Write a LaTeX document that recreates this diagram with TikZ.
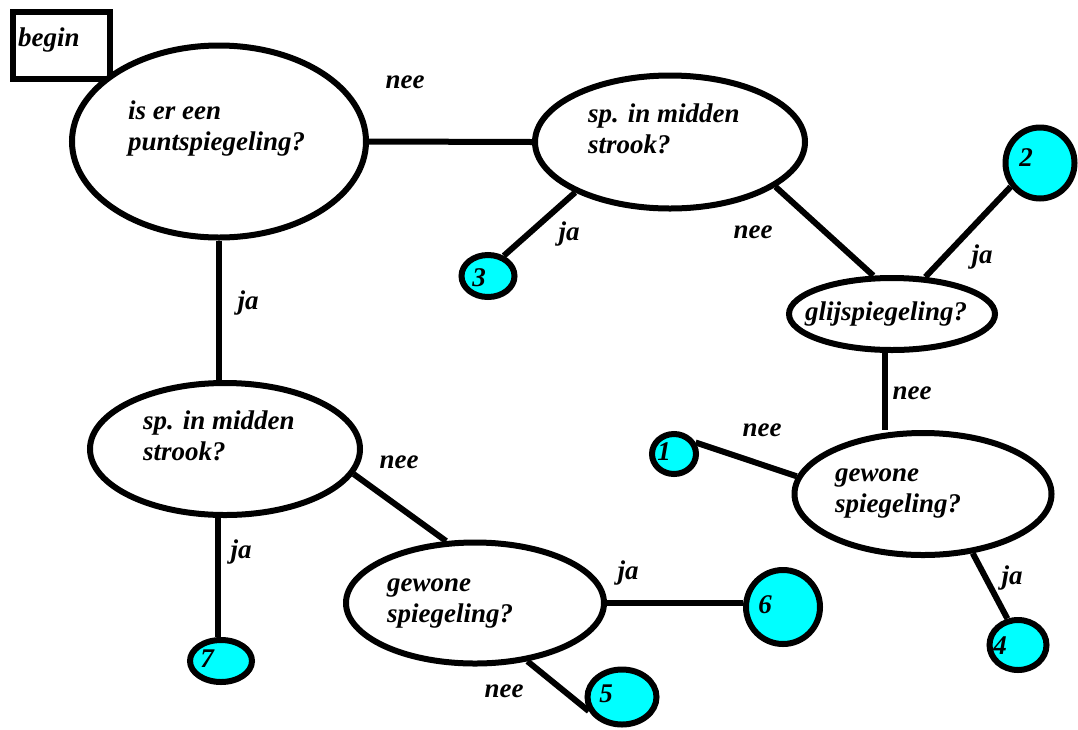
\documentclass[tikz,border=0pt]{standalone}
\usepackage{fontspec}
\setmainfont{Liberation Serif}
\usetikzlibrary{shapes.geometric}
\definecolor{leafcyan}{RGB}{0,255,255}
\tikzset{
  fnt/.style={font=\fontsize{27}{31}\selectfont\bfseries\itshape},
  qbox/.style={ellipse, draw, line width=6pt, fill=white, inner sep=0pt},
  leaf/.style={ellipse, draw, line width=6pt, fill=leafcyan, inner sep=0pt},
  txt/.style={fnt, align=left, inner sep=0pt, anchor=base west},
  lbl/.style={fnt, inner sep=0pt},
  num/.style={fnt, inner sep=0pt},
  conn/.style={line width=6pt},
}
\begin{document}
\begin{tikzpicture}[x=1pt,y=-1pt]
\useasboundingbox (0,0) rectangle (1078,729);
% start box
\node[draw, line width=6pt, minimum width=97pt, minimum height=67pt, inner sep=0pt] (begin) at (61.5,45.5) {};
\node[txt] (begintxt) at (18,46) {begin};
% question ellipses
\node[qbox, minimum width=294pt, minimum height=192pt] (A) at (219,141.5) {};
\node[qbox, minimum width=270pt, minimum height=133pt] (B) at (670,142) {};
\node[qbox, minimum width=206pt, minimum height=72pt] (glij) at (892,314) {};
\node[qbox, minimum width=257pt, minimum height=122pt] (gewR) at (923,494) {};
\node[qbox, minimum width=270pt, minimum height=132pt] (C) at (225,449) {};
\node[qbox, minimum width=258pt, minimum height=121pt] (gewL) at (475,603) {};
% leaves
\node[leaf, minimum width=53pt, minimum height=42pt] (c3) at (488,276) {};
\node[leaf, minimum width=69pt, minimum height=71pt] (c2) at (1040,163) {};
\node[leaf, minimum width=44pt, minimum height=40pt] (c1) at (674,454) {};
\node[leaf, minimum width=57pt, minimum height=50pt] (c4) at (1018,645) {};
\node[leaf, minimum width=62pt, minimum height=42pt] (c7) at (221,661) {};
\node[leaf, minimum width=74pt, minimum height=74pt] (c6) at (783,607) {};
\node[leaf, minimum width=69pt, minimum height=55pt] (c5) at (622,697) {};
% texts (base anchor = baseline of the last line)
\node[txt] (Atxt) at (128,150) {is er een\\puntspiegeling?};
\node[txt] (Btxt) at (588,153) {sp. in midden\\strook?};
\node[txt] (glijtxt) at (805,320) {glijspiegeling?};
\node[txt] (gewRtxt) at (835,512) {gewone\\spiegeling?};
\node[txt] (Ctxt) at (143,460) {sp. in midden\\strook?};
\node[txt] (gewLtxt) at (387,622) {gewone\\spiegeling?};
% numbers
\node[num] (n3) at (479,278) {3};
\node[num] (n2) at (1026,158) {2};
\node[num] (n1) at (664,452) {1};
\node[num] (n4) at (1000,646) {4};
\node[num] (n6) at (765,605) {6};
\node[num] (n7) at (207,659) {7};
\node[num] (n5) at (606,694) {5};
% connectors
\draw[conn] (A.east) -- (B.west);
\draw[conn] (A.south) -- (A.south |- C.north);
\draw[conn] (B.208) -- (c3.52);
\draw[conn] (B.337) -- (glij.116);
\draw[conn] (glij.48) -- (c2.219);
\draw[conn] (glij.260) -- (glij.260 |- gewR.north);
\draw[conn] (gewR.172) -- (c1.28);
\draw[conn] (gewR.310) -- (c4.112);
\draw[conn] (C.264) -- (C.264 |- c7.north);
\draw[conn] (C.349) -- (gewL.115);
\draw[conn] (gewL.east) -- (gewL.east -| c6.west);
\draw[conn] (gewL.312) -- (c5.203);
% labels
\node[lbl] (l1) at (405,82) {nee};
\node[lbl] (l2) at (569,234) {ja};
\node[lbl] (l3) at (753,232) {nee};
\node[lbl] (l4) at (982,257) {ja};
\node[lbl] (l5) at (912,393) {nee};
\node[lbl] (l6) at (762,430) {nee};
\node[lbl] (l7) at (1012,578) {ja};
\node[lbl] (l8) at (248,303) {ja};
\node[lbl] (l9) at (241,552) {ja};
\node[lbl] (l10) at (399,462) {nee};
\node[lbl] (l11) at (628,573) {ja};
\node[lbl] (l12) at (504,691) {nee};
\end{tikzpicture}
\end{document}
